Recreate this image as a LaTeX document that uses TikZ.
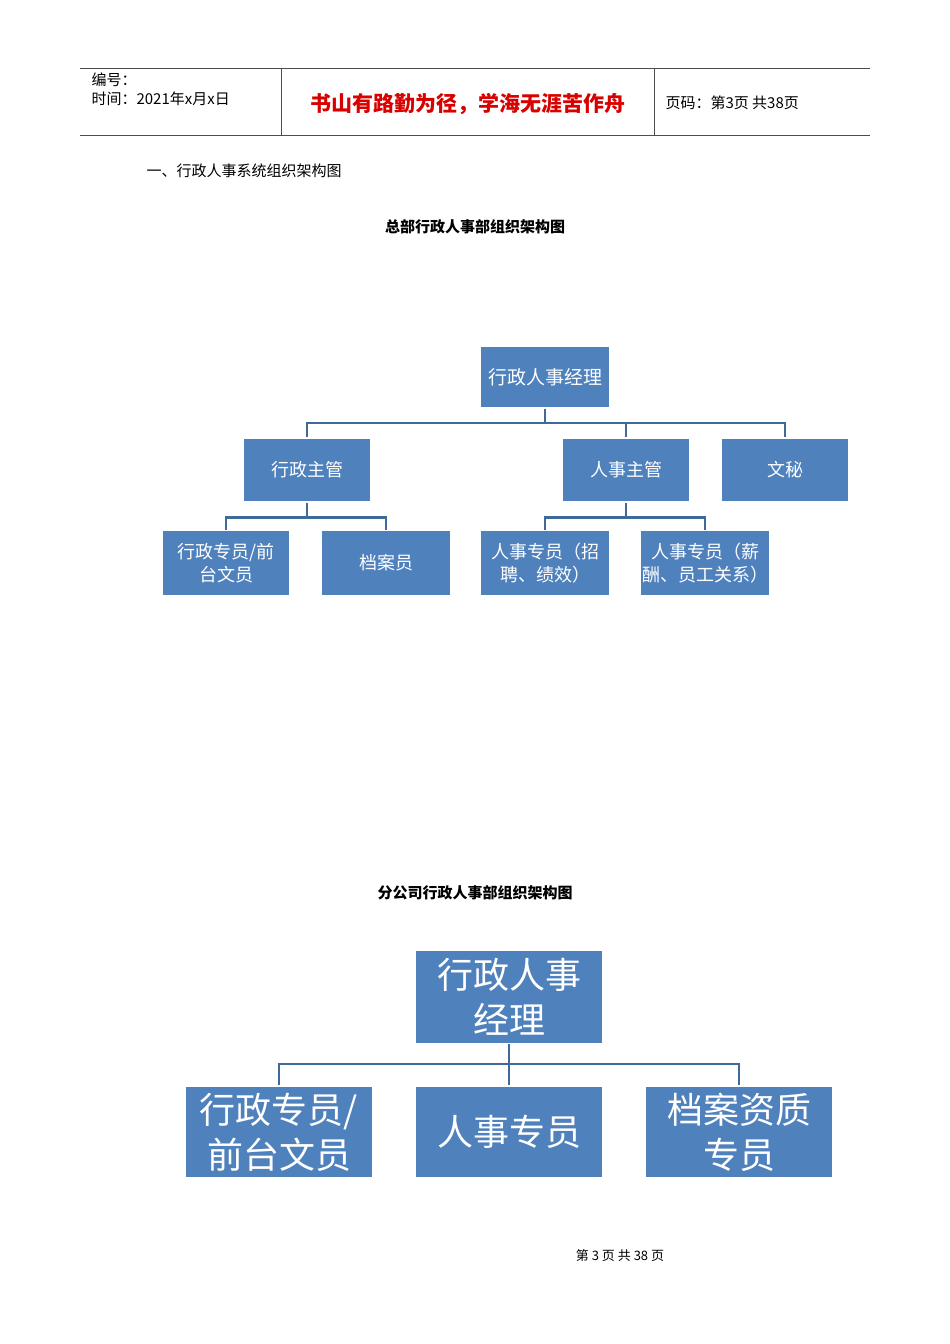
\documentclass[tikz,border=0pt]{standalone}
\usepackage{fontspec}
\setmainfont{Noto Sans CJK SC}
\newfontfamily\cjk{Noto Sans CJK SC}
\begin{document}
\begin{tikzpicture}[x=1pt,y=-1pt,
  bx/.style={fill=boxblue,draw=white,line width=1.2pt,text=white,align=center,inner sep=0pt},
  ln/.style={draw=lineblue,line width=2.6pt},
  hl/.style={draw=black!70,line width=0.8pt}]
\definecolor{boxblue}{HTML}{4F81BD}
\definecolor{lineblue}{HTML}{3E6A9A}
\useasboundingbox[fill=white] (0,0) rectangle (950,1344);
% header
\draw[hl] (80,68) -- (870,68);
\draw[hl] (80,135) -- (870,135);
\draw[hl] (281,68) -- (281,135);
\draw[hl] (654,68) -- (654,135);
\node[anchor=west,font=\fontsize{15}{17}\selectfont] (h1) at (88,80) {编号：};
\node[anchor=west,font=\fontsize{15}{17}\selectfont] (h2) at (88,99) {时间：2021年x月x日};
\node[font=\fontsize{21}{24}\selectfont\bfseries,text=red!85!black] (h3) at (468,104) {书山有路勤为径，学海无涯苦作舟};
\node[anchor=west,font=\fontsize{15}{17}\selectfont] (h4) at (662,103) {页码：第3页 共38页};
\node[anchor=west,font=\fontsize{15}{17}\selectfont] (sec) at (143,171) {一、行政人事系统组织架构图};
\node[font=\fontsize{15}{17}\selectfont\bfseries] (t1) at (475,227) {总部行政人事部组织架构图};
% chart 1
\def\sA{\fontsize{19}{22}\selectfont}
\def\sB{\fontsize{18}{23}\selectfont}
\node[bx,minimum width=129,minimum height=62,font=\sA] (m) at (545,377) {行政人事经理};
\node[bx,minimum width=128,minimum height=64,font=\sB] (a) at (307,470) {行政主管};
\node[bx,minimum width=128,minimum height=64,font=\sB] (b) at (626,470) {人事主管};
\node[bx,minimum width=128,minimum height=64,font=\sB] (c) at (785,470) {文秘};
\node[bx,minimum width=128,minimum height=65,font=\sB] (a1) at (226,563) {行政专员/前\\台文员};
\node[bx,minimum width=130,minimum height=65,font=\sB] (a2) at (386,563) {档案员};
\node[bx,minimum width=129,minimum height=65,font=\sB] (b1) at (545,563) {人事专员（招\\聘、绩效）};
\node[bx,minimum width=129,minimum height=65,font=\sB] (b2) at (705,563) {人事专员（薪\\酬、员工关系）};
\coordinate (j1) at (545,423);
\draw[ln] (m.south) -- (j1);
\draw[ln] (a.north) |- (j1) -| (c.north);
\draw[ln] (b.north) -- (b.north |- j1);
\draw[ln] (a.south) -- ++(0,15) coordinate (j2);
\draw[ln] (a1.north) |- (j2) -| (a2.north);
\draw[ln] (b.south) -- ++(0,15) coordinate (j3);
\draw[ln] (b1.north) |- (j3) -| (b2.north);
% chart 2
\node[font=\fontsize{15}{17}\selectfont\bfseries] (t2) at (475,893) {分公司行政人事部组织架构图};
\def\sC{\fontsize{36}{45}\selectfont}
\node[bx,minimum width=188,minimum height=93,font=\sC] (M) at (509,997) {行政人事\\经理};
\node[bx,minimum width=188,minimum height=92,font=\sC] (A) at (279,1132) {行政专员/\\前台文员};
\node[bx,minimum width=188,minimum height=92,font=\sC] (B) at (509,1132) {人事专员};
\node[bx,minimum width=188,minimum height=92,font=\sC] (C) at (739,1132) {档案资质\\专员};
\coordinate (J) at (509,1064);
\draw[ln] (M.south) -- (B.north);
\draw[ln] (A.north) |- (J) -| (C.north);
\node[font=\fontsize{13}{15}\selectfont] (ft) at (620,1256) {第 3 页 共 38 页};
\end{tikzpicture}
\end{document}
